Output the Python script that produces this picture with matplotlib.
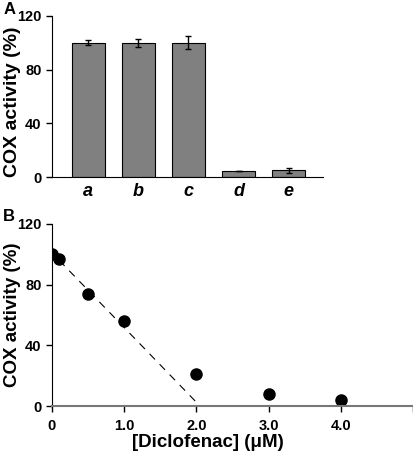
import numpy as np
import matplotlib
matplotlib.use("Agg")
import matplotlib.pyplot as plt

plt.rcParams["font.family"] = ["Liberation Sans", "DejaVu Sans"]
plt.rcParams["font.weight"] = "bold"

# ================================
# Data
# ================================
bar_labels = ["a", "b", "c", "d", "e"]
bar_values = [100, 100, 100, 4.5, 5]
bar_errors = [2, 3, 5, 0, 2]

conc = [0, 0.1, 0.5, 1.0, 2.0, 3.0, 4.0]
activity = [100, 97, 74, 56, 21, 8, 4]

fit_x = [0.1, 2.05]
fit_y = [96, 0]

x_ticks_b = [0, 1, 2, 3, 4, 5]
x_ticklabels_b = ["0", "1.0", "2.0", "3.0", "4.0", ""]
y_ticks = [0, 40, 80, 120]

fig = plt.figure(figsize=(4.14, 4.54), dpi=100)

# ================================
# Panel A
# ================================
ax1 = fig.add_axes([0.1256, 0.610, 0.654, 0.355])
pos = np.arange(len(bar_labels))
ax1.bar(pos, bar_values, width=0.66, color="#808080", edgecolor="black", linewidth=0.8,
        yerr=bar_errors, error_kw=dict(ecolor="black", elinewidth=1, capsize=2.5, capthick=1))
ax1.set_xlim(-0.72, 4.68)
ax1.set_ylim(0, 120)
ax1.set_yticks(y_ticks)
ax1.set_xticks(pos)
ax1.set_xticklabels(bar_labels, fontsize=13, fontstyle="italic", fontweight="bold")
ax1.tick_params(axis="x", length=0, pad=4)
ax1.tick_params(axis="y", labelsize=10.5, length=4, width=1)
for t in ax1.get_yticklabels():
    t.set_fontweight("bold")
ax1.spines["top"].set_visible(False)
ax1.spines["right"].set_visible(False)
ax1.set_ylabel("COX activity (%)", fontsize=14, fontweight="bold")
ax1.yaxis.set_label_coords(-0.114, 0.47)
fig.text(0.008, 0.995, "A", fontsize=12, fontweight="bold", va="top")

# ================================
# Panel B
# ================================
ax2 = fig.add_axes([0.1256, 0.1057, 0.872, 0.401])
ax2.plot(conc, activity, "o", color="black", markersize=8)
ax2.plot(fit_x, fit_y, "--", color="black", linewidth=0.8, dashes=(7, 6))
ax2.set_xlim(0, 5)
ax2.set_ylim(0, 120)
ax2.set_yticks(y_ticks)
ax2.set_xticks(x_ticks_b)
ax2.set_xticklabels(x_ticklabels_b)
ax2.tick_params(labelsize=10.5, length=4, width=1)
ax2.tick_params(axis="x", pad=5)
for t in ax2.get_xticklabels() + ax2.get_yticklabels():
    t.set_fontweight("bold")
ax2.spines["top"].set_visible(False)
ax2.spines["right"].set_visible(False)
ax2.spines["bottom"].set_color("#777777")
ax2.spines["bottom"].set_linewidth(1.5)
ax2.set_ylabel("COX activity (%)", fontsize=13.5, fontweight="bold")
ax2.yaxis.set_label_coords(-0.086, 0.5)
ax2.set_xlabel("[Diclofenac] (\u03bcM)", fontsize=13.5, fontweight="bold")
ax2.xaxis.set_label_coords(0.431, -0.155)
fig.text(0.008, 0.54, "B", fontsize=12, fontweight="bold", va="top")

fig.savefig("out.png", dpi=100)
